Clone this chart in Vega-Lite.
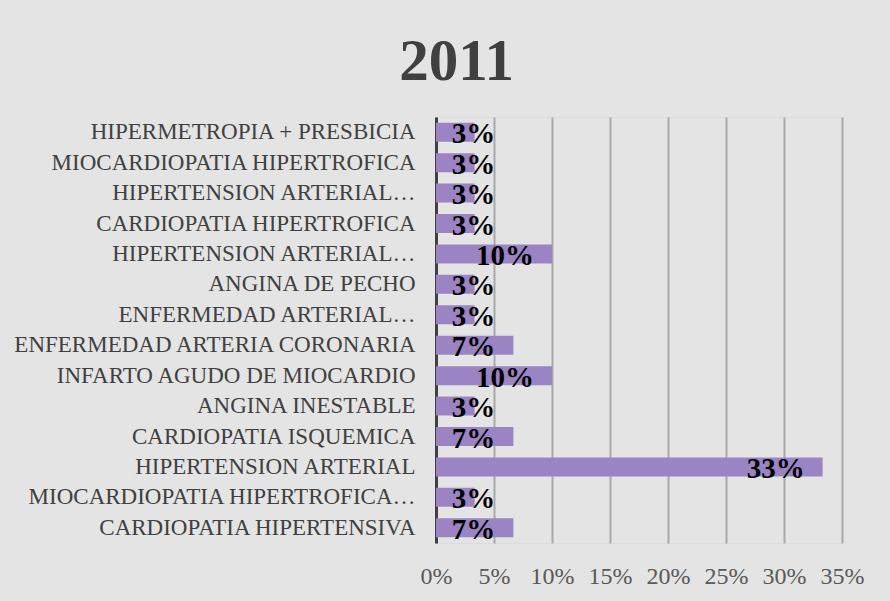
{
  "$schema": "https://vega.github.io/schema/vega-lite/v6.json",
  "width": 406,
  "height": 426,
  "autosize": "none",
  "padding": {"left": 436, "top": 117, "right": 48, "bottom": 58},
  "background": "#e4e4e4",
  "title": {"text": "2011", "font": "Liberation Serif", "fontSize": 59, "fontWeight": "bold", "color": "#404040", "anchor": "middle", "frame": "bounds", "offset": 25, "dx": 19},
  "data": {"values": [
    {"cause": "HIPERMETROPIA + PRESBICIA", "share": 0.0333},
    {"cause": "MIOCARDIOPATIA HIPERTROFICA", "share": 0.0333},
    {"cause": "HIPERTENSION ARTERIAL PULMONAR", "share": 0.0333},
    {"cause": "CARDIOPATIA HIPERTROFICA", "share": 0.0333},
    {"cause": "HIPERTENSION ARTERIAL SISTEMICA", "share": 0.1},
    {"cause": "ANGINA DE PECHO", "share": 0.0333},
    {"cause": "ENFERMEDAD ARTERIAL PERIFERICA", "share": 0.0333},
    {"cause": "ENFERMEDAD ARTERIA CORONARIA", "share": 0.0667},
    {"cause": "INFARTO AGUDO DE MIOCARDIO", "share": 0.1},
    {"cause": "ANGINA INESTABLE", "share": 0.0333},
    {"cause": "CARDIOPATIA ISQUEMICA", "share": 0.0667},
    {"cause": "HIPERTENSION ARTERIAL", "share": 0.3333},
    {"cause": "MIOCARDIOPATIA HIPERTROFICA OBSTRUCTIVA", "share": 0.0333},
    {"cause": "CARDIOPATIA HIPERTENSIVA", "share": 0.0667}
  ]},
  "transform": [{"calculate": "max(datum.share, 0.0667)", "as": "labelPos"}],
  "encoding": {
    "y": {
      "field": "cause", "type": "nominal", "sort": null,
      "scale": {"paddingInner": 0.375, "paddingOuter": 0.1875},
      "axis": {
        "title": null, "domain": true, "domainColor": "#404040", "domainWidth": 3,
        "ticks": false, "tickSize": 0, "grid": false,
        "labelFont": "Liberation Serif", "labelFontSize": 23, "labelColor": "#404040",
        "labelPadding": 21, "labelLimit": 430,
        "labelExpr": "replace(datum.value, regexp('^(HIPERTENSION ARTERIAL|ENFERMEDAD ARTERIAL|MIOCARDIOPATIA HIPERTROFICA) .+$'), '$1…')"
      }
    }
  },
  "layer": [
    {
      "mark": {"type": "bar", "color": "#9a84c4"},
      "encoding": {
        "x": {
          "field": "share", "type": "quantitative",
          "scale": {"domain": [0, 0.35], "nice": false},
          "axis": {
            "title": null, "format": ".0%", "values": [0, 0.05, 0.1, 0.15, 0.2, 0.25, 0.3, 0.35],
            "domain": false, "ticks": false, "tickSize": 0, "labelOverlap": false, "labelFlush": false,
            "grid": true, "gridColor": "#a8a8a8", "gridWidth": 2,
            "labelFont": "Liberation Serif", "labelFontSize": 24, "labelColor": "#595959",
            "labelPadding": 21
          }
        }
      }
    },
    {
      "mark": {"type": "text", "align": "right", "baseline": "middle", "dx": -18, "dy": 2, "font": "Liberation Serif", "fontWeight": "bold", "fontSize": 29, "color": "#000000"},
      "encoding": {
        "x": {"field": "labelPos", "type": "quantitative"},
        "text": {"field": "share", "type": "quantitative", "format": ".0%"}
      }
    }
  ]
}
